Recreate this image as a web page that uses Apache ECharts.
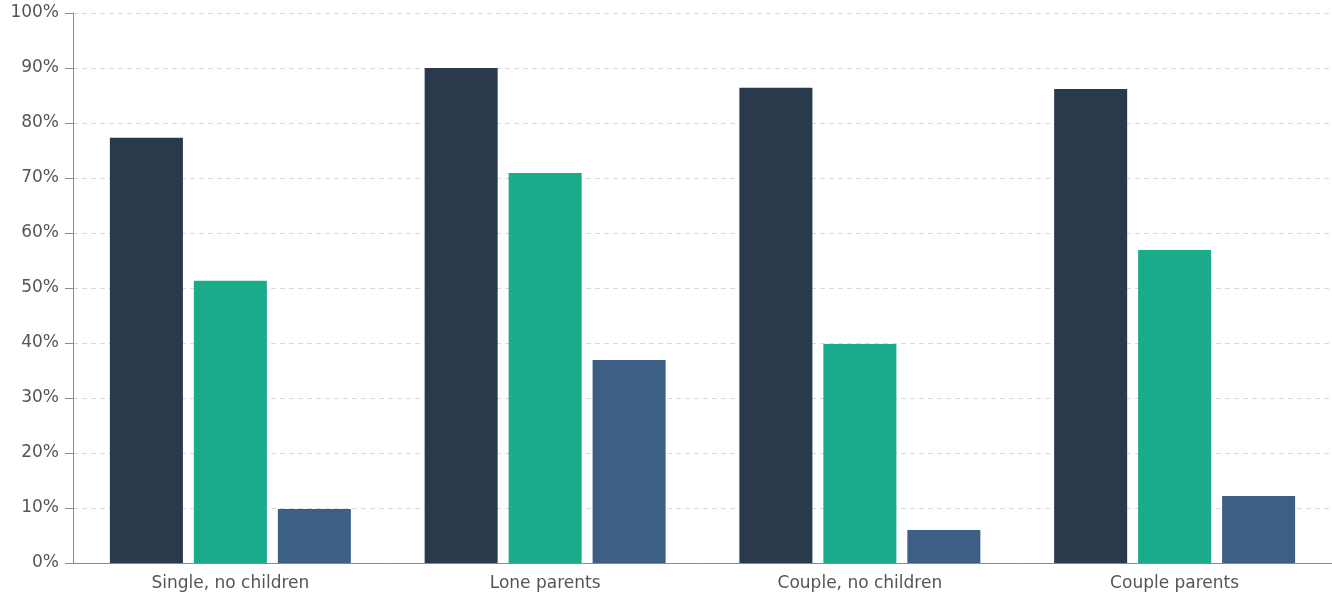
<!DOCTYPE html>
<html>
<head>
<meta charset="utf-8">
<script src="https://cdn.jsdelivr.net/npm/echarts@6/dist/echarts.min.js"></script>
<style>
html,body{margin:0;padding:0;background:#fff;}
#chart{width:1332px;height:601px;}
</style>
</head>
<body>
<div id="chart"></div>
<script>
const categories = ['Single, no children', 'Lone parents', 'Couple, no children', 'Couple parents'];
const seriesA = [77.3, 90.0, 86.4, 86.2];
const seriesB = [51.3, 70.9, 39.8, 56.9];
const seriesC = [9.8, 36.9, 6.0, 12.2];
const yTicks = [0, 10, 20, 30, 40, 50, 60, 70, 80, 90, 100];

const chart = echarts.init(document.getElementById('chart'));
const font = '"DejaVu Sans", "Noto Sans", sans-serif';
chart.setOption({
  animation: false,
  grid: {left: 73, right: 0, top: 13, bottom: 38, containLabel: false},
  xAxis: {
    type: 'category',
    data: categories,
    axisLine: {lineStyle: {color: '#8a8a8a', width: 1}},
    axisTick: {alignWithLabel: true, length: 6, lineStyle: {color: '#8a8a8a'}},
    axisLabel: {color: '#555', fontSize: 17, fontFamily: font, margin: 12}
  },
  yAxis: {
    type: 'value',
    min: 0, max: 100, interval: 10,
    axisLine: {show: true, lineStyle: {color: '#8a8a8a', width: 1}},
    axisTick: {show: true, length: 8, lineStyle: {color: '#8a8a8a'}},
    axisLabel: {color: '#555', fontSize: 17, fontFamily: font, margin: 14,
      formatter: v => yTicks.includes(v) ? v + '%' : ''},
    splitLine: {lineStyle: {color: '#d9d9d9', type: [5, 4]}}
  },
  series: [
    {type: 'bar', data: seriesA, itemStyle: {color: '#2a3a4d'}, barWidth: '23.2%', barGap: '15%'},
    {type: 'bar', data: seriesB, itemStyle: {color: '#1aab8a'}, barWidth: '23.2%', barGap: '15%'},
    {type: 'bar', data: seriesC, itemStyle: {color: '#3e5f85'}, barWidth: '23.2%', barGap: '15%'}
  ]
});
</script>
</body>
</html>
